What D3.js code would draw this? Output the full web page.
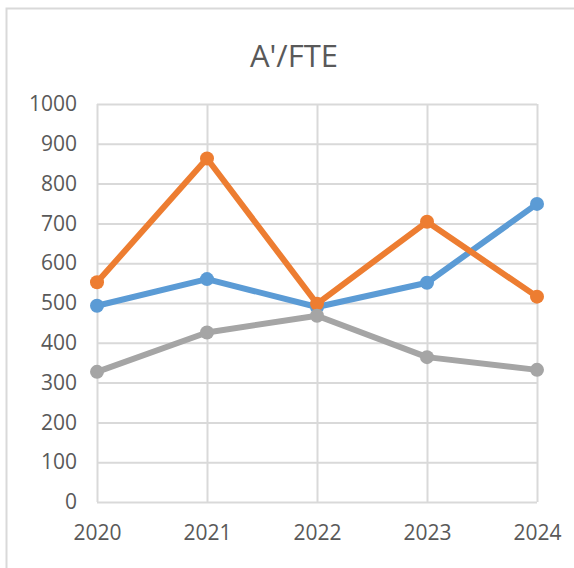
<!DOCTYPE html>
<html>
<head>
<meta charset="utf-8">
<script src="https://cdn.jsdelivr.net/npm/d3@7"></script>
<style>
  html, body { margin: 0; padding: 0; background: #fff; }
  svg { display: block; }
</style>
</head>
<body>
<svg id="chart" width="574" height="568"></svg>
<script>
const years = ["2020", "2021", "2022", "2023", "2024"];
const blueValues = [493, 560, 490, 551, 749];
const orangeValues = [552, 863, 498, 704, 516];
const grayValues = [327, 426, 468, 364, 332];
const yTicks = [0, 100, 200, 300, 400, 500, 600, 700, 800, 900, 1000];

const series = [
  { name: "blue", color: "#5B9BD5", values: blueValues },
  { name: "orange", color: "#ED7D31", values: orangeValues },
  { name: "gray", color: "#A5A5A5", values: grayValues }
];

const svg = d3.select("#chart");
const font = "'Open Sans', 'Noto Sans', sans-serif";
const textColor = "#595959";
const gridColor = "#D9D9D9";

// chart area border (only left and top visible in the crop)
svg.append("path")
  .attr("d", "M6.5,568 L6.5,8.5 L574,8.5")
  .attr("fill", "none")
  .attr("stroke", gridColor)
  .attr("stroke-width", 2);

const x = d3.scalePoint().domain(years).range([97, 537]);
const y = d3.scaleLinear().domain([0, 1000]).range([502, 104]);

// title
svg.append("text")
  .attr("x", 294)
  .attr("y", 67)
  .attr("text-anchor", "middle")
  .attr("font-family", font)
  .attr("font-size", 31)
  .attr("fill", textColor)
  .text("A'/FTE");

// horizontal gridlines + y labels
const yAxis = d3.axisLeft(y).tickValues(yTicks).tickFormat(d3.format("d"))
  .tickSize(-(537 - 97)).tickPadding(20);
const gy = svg.append("g").attr("transform", "translate(97,0)").call(yAxis);
gy.select(".domain").remove();
gy.selectAll(".tick line").attr("stroke", gridColor).attr("stroke-width", 2);
gy.selectAll(".tick text")
  .attr("font-family", font)
  .attr("font-size", 21)
  .attr("fill", textColor);

// vertical gridlines + x labels
const xAxis = d3.axisBottom(x).tickSize(-(502 - 104)).tickPadding(23);
const gx = svg.append("g").attr("transform", "translate(0,502)").call(xAxis);
gx.select(".domain").remove();
gx.selectAll(".tick line").attr("stroke", gridColor).attr("stroke-width", 2);
gx.selectAll(".tick text")
  .attr("font-family", font)
  .attr("font-size", 21)
  .attr("fill", textColor);

const line = d3.line()
  .x((d, i) => x(years[i]))
  .y(d => y(d));

series.forEach(s => {
  const g = svg.append("g");
  g.append("path")
    .datum(s.values)
    .attr("d", line)
    .attr("fill", "none")
    .attr("stroke", s.color)
    .attr("stroke-width", 6)
    .attr("stroke-linejoin", "round")
    .attr("stroke-linecap", "round");
  g.selectAll("circle")
    .data(s.values)
    .join("circle")
    .attr("cx", (d, i) => x(years[i]))
    .attr("cy", d => y(d))
    .attr("r", 7)
    .attr("fill", s.color);
});
</script>
</body>
</html>
